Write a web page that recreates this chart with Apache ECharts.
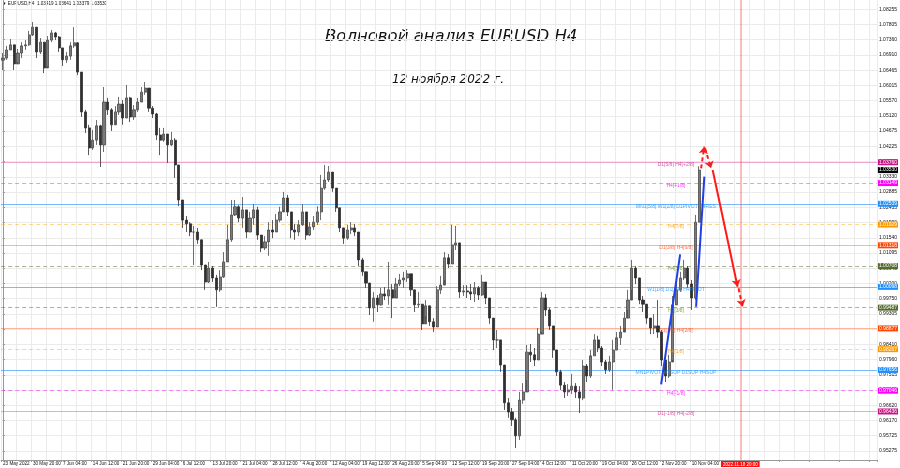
<!DOCTYPE html>
<html><head><meta charset="utf-8">
<script src="https://cdn.jsdelivr.net/npm/echarts@6/dist/echarts.min.js"></script>
<style>html,body{margin:0;padding:0;background:#fff}#c{width:900px;height:468px}</style>
</head><body><div id="c"></div>
<script>
const timeLabels = ["23 May 2022","30 May 20:00","7 Jun 04:00","14 Jun 12:00","21 Jun 20:00","29 Jun 04:00","6 Jul 12:00","13 Jul 20:00","21 Jul 04:00","28 Jul 12:00","4 Aug 20:00","12 Aug 04:00","19 Aug 12:00","26 Aug 20:00","5 Sep 04:00","12 Sep 12:00","19 Sep 20:00","27 Sep 04:00","4 Oct 12:00","11 Oct 20:00","19 Oct 04:00","26 Oct 12:00","2 Nov 20:00","10 Nov 04:00"];
const priceTicks = [1.08255,1.07805,1.07360,1.06910,1.06465,1.06015,1.05570,1.05120,1.04675,1.04225,1.03780,1.03330,1.02885,1.02435,1.01990,1.01540,1.01095,1.00645,1.00200,0.99750,0.99305,0.98855,0.98410,0.97960,0.97515,0.97065,0.96620,0.96170,0.95725,0.95275];

const firstOpen = 1.0676;
const closes = [1.0682,1.0706,1.0721,1.0665,1.0697,1.0718,1.0721,1.0750,1.0773,1.0700,
1.0729,1.0653,1.0735,1.0756,1.0744,1.0712,1.0677,1.0688,1.0718,1.0727,
1.0641,1.0524,1.0477,1.0418,1.0441,1.0483,1.0427,1.0553,1.0530,1.0486,
1.0524,1.0547,1.0506,1.0565,1.0509,1.0530,1.0553,1.0582,1.0594,1.0535,
1.0518,1.0456,1.0441,1.0459,1.0427,1.0441,1.0368,1.0265,1.0206,1.0195,
1.0171,1.0171,1.0148,1.0074,1.0024,1.0065,1.0036,1.0001,1.0039,1.0083,
1.0148,1.0221,1.0245,1.0212,1.0236,1.0171,1.0212,1.0236,1.0162,1.0124,
1.0142,1.0177,1.0171,1.0206,1.0230,1.0271,1.0230,1.0177,1.0171,1.0192,
1.0230,1.0162,1.0186,1.0200,1.0230,1.0300,1.0324,1.0347,1.0300,1.0242,
1.0183,1.0153,1.0177,1.0183,1.0171,1.0089,1.0054,1.0021,0.9948,0.9977,
0.9957,0.9989,0.9983,1.0001,0.9977,1.0018,1.0030,1.0036,1.0048,1.0001,
0.9957,0.9959,0.9901,0.9954,0.9907,0.9892,1.0001,1.0015,1.0095,1.0077,
1.0133,1.0139,0.9995,0.9998,0.9995,0.9989,1.0007,0.9986,1.0024,0.9977,
0.9918,0.9854,0.9854,0.9780,0.9669,0.9642,0.9619,0.9572,0.9677,0.9701,
0.9818,0.9810,0.9795,0.9871,0.9977,0.9942,0.9895,0.9824,0.9760,0.9721,
0.9701,0.9707,0.9718,0.9701,0.9683,0.9777,0.9748,0.9807,0.9854,0.9830,
0.9789,0.9766,0.9789,0.9824,0.9860,0.9877,0.9918,0.9971,1.0065,1.0036,
0.9971,0.9959,0.9918,0.9889,0.9895,0.9877,0.9795,0.9748,0.9789,0.9957,
1.0001,1.0036,1.0065,1.0018,0.9977,1.0200,1.0353];
const highs = [1.0697,1.0718,1.0738,1.0700,1.0709,1.0729,1.0735,1.0762,1.0788,1.0771,
1.0741,1.0727,1.0747,1.0765,1.0759,1.0747,1.0712,1.0700,1.0729,1.0773,
1.0729,1.0630,1.0530,1.0486,1.0471,1.0500,1.0486,1.0597,1.0565,1.0535,
1.0541,1.0568,1.0559,1.0603,1.0568,1.0544,1.0565,1.0597,1.0612,1.0594,
1.0541,1.0521,1.0477,1.0477,1.0456,1.0465,1.0447,1.0368,1.0265,1.0218,
1.0200,1.0189,1.0183,1.0148,1.0074,1.0083,1.0071,1.0045,1.0059,1.0112,
1.0192,1.0265,1.0265,1.0250,1.0274,1.0236,1.0230,1.0253,1.0245,1.0159,
1.0159,1.0200,1.0206,1.0224,1.0245,1.0289,1.0280,1.0230,1.0195,1.0206,
1.0253,1.0230,1.0200,1.0218,1.0247,1.0339,1.0368,1.0365,1.0347,1.0300,
1.0242,1.0183,1.0192,1.0200,1.0195,1.0171,1.0095,1.0054,1.0021,0.9995,
0.9986,1.0007,1.0009,1.0083,1.0018,1.0036,1.0048,1.0054,1.0059,1.0048,
1.0001,0.9995,0.9957,0.9971,0.9954,0.9918,1.0012,1.0042,1.0112,1.0106,
1.0192,1.0189,1.0133,1.0015,1.0015,1.0018,1.0024,1.0012,1.0045,1.0018,
0.9971,0.9918,0.9883,0.9854,0.9780,0.9683,0.9654,0.9625,0.9701,0.9727,
0.9839,0.9842,0.9830,0.9889,0.9995,0.9989,0.9948,0.9895,0.9818,0.9766,
0.9730,0.9724,0.9754,0.9727,0.9718,0.9795,0.9783,0.9824,0.9871,0.9866,
0.9836,0.9795,0.9807,0.9854,0.9877,0.9895,0.9936,1.0001,1.0089,1.0071,
1.0024,0.9983,0.9954,0.9918,0.9930,0.9971,0.9883,0.9789,0.9810,0.9983,
1.0024,1.0054,1.0089,1.0071,1.0030,1.0221,1.0364];
const lows = [1.0647,1.0677,1.0706,1.0647,1.0671,1.0682,1.0706,1.0718,1.0747,1.0682,
1.0694,1.0638,1.0659,1.0729,1.0735,1.0700,1.0659,1.0668,1.0677,1.0712,
1.0632,1.0509,1.0462,1.0397,1.0412,1.0427,1.0362,1.0406,1.0515,1.0468,
1.0500,1.0515,1.0486,1.0506,1.0494,1.0500,1.0524,1.0553,1.0574,1.0524,
1.0506,1.0441,1.0397,1.0436,1.0374,1.0424,1.0330,1.0247,1.0183,1.0171,
1.0159,1.0074,1.0136,1.0059,1.0001,1.0021,1.0024,0.9951,0.9995,1.0036,
1.0083,1.0142,1.0218,1.0200,1.0183,1.0153,1.0171,1.0192,1.0148,1.0112,
1.0118,1.0101,1.0153,1.0171,1.0200,1.0236,1.0218,1.0153,1.0148,1.0159,
1.0189,1.0148,1.0159,1.0177,1.0192,1.0206,1.0295,1.0318,1.0289,1.0230,
1.0171,1.0136,1.0148,1.0165,1.0159,1.0071,1.0042,1.0007,0.9927,0.9907,
0.9936,0.9954,0.9971,0.9957,0.9918,1.0001,1.0012,1.0007,1.0024,0.9983,
0.9936,0.9948,0.9883,0.9924,0.9895,0.9877,0.9895,0.9989,1.0030,1.0065,
1.0118,1.0118,0.9977,0.9983,0.9977,0.9971,0.9965,0.9971,0.9983,0.9959,
0.9901,0.9824,0.9830,0.9760,0.9648,0.9625,0.9601,0.9536,0.9560,0.9666,
0.9736,0.9789,0.9777,0.9801,0.9877,0.9924,0.9883,0.9801,0.9748,0.9707,
0.9683,0.9689,0.9695,0.9683,0.9639,0.9677,0.9730,0.9742,0.9807,0.9818,
0.9777,0.9754,0.9760,0.9707,0.9824,0.9839,0.9889,0.9942,1.0001,1.0018,
0.9959,0.9936,0.9901,0.9871,0.9871,0.9860,0.9777,0.9730,0.9742,0.9795,
0.9959,0.9995,1.0030,1.0007,0.9942,0.9971,1.0200];

const levelPrices = [1.03760,1.03149,1.02539,1.01929,1.01318,1.00708,1.00098,0.99487,0.98877,0.98267,0.97656,0.97046,0.96436];
const levelNames = ["D1[5/8] H4[+2/8]","H4[+1/8]","MN1[5/8] W1[2/8] D1PIVOT H4RES","H4[7/8]","D1[3/8] H4[6/8]","H4[5/8]","W1[1/8] D1[2/8] H4PIVOT","H4[3/8]","D1[1/8] H4[2/8]","H4[1/8]","MN1PIVOT W1SUP D1SUP H4SUP","H4[-1/8]","D1[-1/8] H4[-2/8]"];
const levelKinds = ["pink","magenta","blue","orange","red","olive","blue","olive","red","orange","blue","magenta","pink"];
const levelDashed = [false,true,false,true,false,true,false,true,false,true,false,true,false];

const headerText = "EURUSD,H4  1.03419 1.03641 1.03379 1.03530";
const lastPrice = 1.03530;
const forecastLabel = "2022.11.18 20:00";
const forecastIndex = 197;
const titleText = "Волновой анализ EURUSD H4";
const dateText = "12 ноября 2022 г.";
const levelTextIndex = 179.8;
const blueWave1 = [[175.85,0.97235],[180.92,1.01055]];
const blueWave2 = [[185.18,0.99515],[187.39,1.03336]];
const redDashed = [[[186.51,1.03582],[187.39,1.04217]],[[187.58,1.04170],[189.18,1.03580]],[[196.53,1.00056],[197.60,0.99515]]];
const redSolid = [[[189.61,1.03530],[196.27,1.00103]]];

const NCAT = 234;
const palette = {
  pink:{line:'rgba(214,60,150,0.45)',text:'#cc2f8f',bg:'#c71585'},
  magenta:{line:'rgba(255,0,255,0.45)',text:'#ff00ff',bg:'#ff00ff'},
  blue:{line:'rgba(30,144,255,0.6)',text:'#1e90ff',bg:'#1e90ff'},
  orange:{line:'rgba(255,165,0,0.45)',text:'#ff9900',bg:'#ff9900'},
  red:{line:'rgba(255,69,0,0.4)',text:'#ff5020',bg:'#ff4500'},
  olive:{line:'rgba(85,107,47,0.5)',text:'#6b8e23',bg:'#556b2f'}
};

const cats = [];
for (let i = 0; i < NCAT; i++) cats.push(String(i));
const candles = closes.map((c, i) => [i === 0 ? firstOpen : closes[i - 1], c, lows[i], highs[i]]);

const levelLines = levelPrices.map((p, i) => {
  const pc = palette[levelKinds[i]];
  return {
    yAxis: p,
    lineStyle: {color: pc.line, width: 1.2, type: levelDashed[i] ? [4, 3] : 'solid'},
    label: {show: true, position: 'end', distance: 1, formatter: p.toFixed(5),
      backgroundColor: pc.bg, color: '#fff', fontSize: 5, padding: [1, 1, 0, 1], fontFamily: 'Liberation Sans'}
  };
});
levelLines.push({
  yAxis: lastPrice,
  lineStyle: {color: 'rgba(0,0,0,0)', width: 0},
  label: {show: true, position: 'end', distance: 1, formatter: lastPrice.toFixed(5),
    backgroundColor: '#000', color: '#fff', fontSize: 5, padding: [1, 1, 0, 1], fontFamily: 'Liberation Sans'}
});
levelLines.push({
  xAxis: forecastIndex,
  lineStyle: {color: 'rgba(240,90,90,0.4)', width: 2, type: 'solid'},
  label: {show: true, position: 'start', distance: 1, formatter: forecastLabel,
    backgroundColor: '#ff1010', color: '#fff', fontSize: 4.5, padding: [1, 2, 0, 2], fontFamily: 'Liberation Sans'}
});

const arrowData = [];
redDashed.forEach(seg => arrowData.push([{coord: seg[0], lineStyle: {type: [4, 3]}}, {coord: seg[1]}]));
redSolid.forEach(seg => arrowData.push([{coord: seg[0], lineStyle: {type: 'solid'}}, {coord: seg[1]}]));

const textData = levelPrices.map((p, i) => ({
  value: [levelTextIndex, p],
  label: {color: palette[levelKinds[i]].text, formatter: levelNames[i]}
}));

const chart = echarts.init(document.getElementById('c'), null, {renderer: 'canvas'});
chart.setOption({
  animation: false,
  backgroundColor: '#fff',
  grid: {left: 0, right: 22, top: 0, bottom: 8},
  xAxis: [{
    type: 'category', data: cats, boundaryGap: true,
    axisLine: {show: true, lineStyle: {color: '#999', width: 1}},
    axisTick: {show: true, interval: 7, length: 2, lineStyle: {color: '#999'}},
    axisLabel: {interval: 7, align: 'left', margin: 1, fontSize: 4.6, color: '#111', fontFamily: 'Liberation Sans',
      formatter: (v, idx) => timeLabels[idx / 8] || ''},
    splitLine: {show: true, interval: 3, lineStyle: {color: '#ebebeb', width: 1}}
  }, {
    type: 'value', min: -0.5, max: NCAT - 0.5, show: false
  }],
  yAxis: {
    type: 'value', position: 'right', min: 0.95010, max: 1.08528, scale: true,
    axisLine: {show: true, lineStyle: {color: '#999'}},
    axisTick: {show: true, length: 2, customValues: priceTicks, lineStyle: {color: '#999'}},
    axisLabel: {customValues: priceTicks, margin: 2, fontSize: 5, color: '#111', fontFamily: 'Liberation Sans',
      formatter: v => v.toFixed(5)},
    splitLine: {show: true, lineStyle: {color: '#ebebeb', width: 1}}
  },
  series: [{
    type: 'candlestick', data: candles, barWidth: 2.6,
    itemStyle: {color: '#7a7a7a', color0: '#303030', borderColor: '#4a4a4a', borderColor0: '#303030', borderWidth: 0.8},
    z: 3
  }, {
    type: 'line', xAxisIndex: 1, data: [], symbol: 'none',
    markLine: {silent: true, precision: 5, symbol: ['none', 'none'], data: levelLines, z: 1},
    z: 1
  }, {
    type: 'scatter', xAxisIndex: 1, data: textData, symbolSize: 0,
    label: {show: true, position: 'inside', offset: [0, 2.5], fontSize: 5, fontFamily: 'Liberation Sans'},
    z: 4
  }, {
    type: 'line', xAxisIndex: 1, data: blueWave1, symbol: 'none',
    lineStyle: {color: '#1f3fe8', width: 2}, z: 5
  }, {
    type: 'line', xAxisIndex: 1, data: blueWave2, symbol: 'none',
    lineStyle: {color: '#1f3fe8', width: 2}, z: 5
  }, {
    type: 'line', xAxisIndex: 1, data: [], symbol: 'none',
    markLine: {silent: true, precision: 5, symbol: ['none', 'arrow'], symbolSize: 7,
      lineStyle: {color: '#ff1a1a', width: 2}, label: {show: false}, data: arrowData},
    z: 6
  }],
  graphic: [{
    type: 'text', left: 2, top: 1,
    style: {text: '▼ ' + headerText, fontSize: 4.6, fill: '#111', fontFamily: 'Liberation Sans'}
  }, {
    type: 'text', left: 325, top: 28,
    style: {text: titleText, fontSize: 16.5, fill: '#111', fontFamily: 'DejaVu Sans', fontStyle: 'italic'}
  }, {
    type: 'text', left: 392, top: 74,
    style: {text: dateText, fontSize: 12, fill: '#111', fontFamily: 'DejaVu Sans', fontStyle: 'italic'}
  }]
});
</script>
</body></html>
